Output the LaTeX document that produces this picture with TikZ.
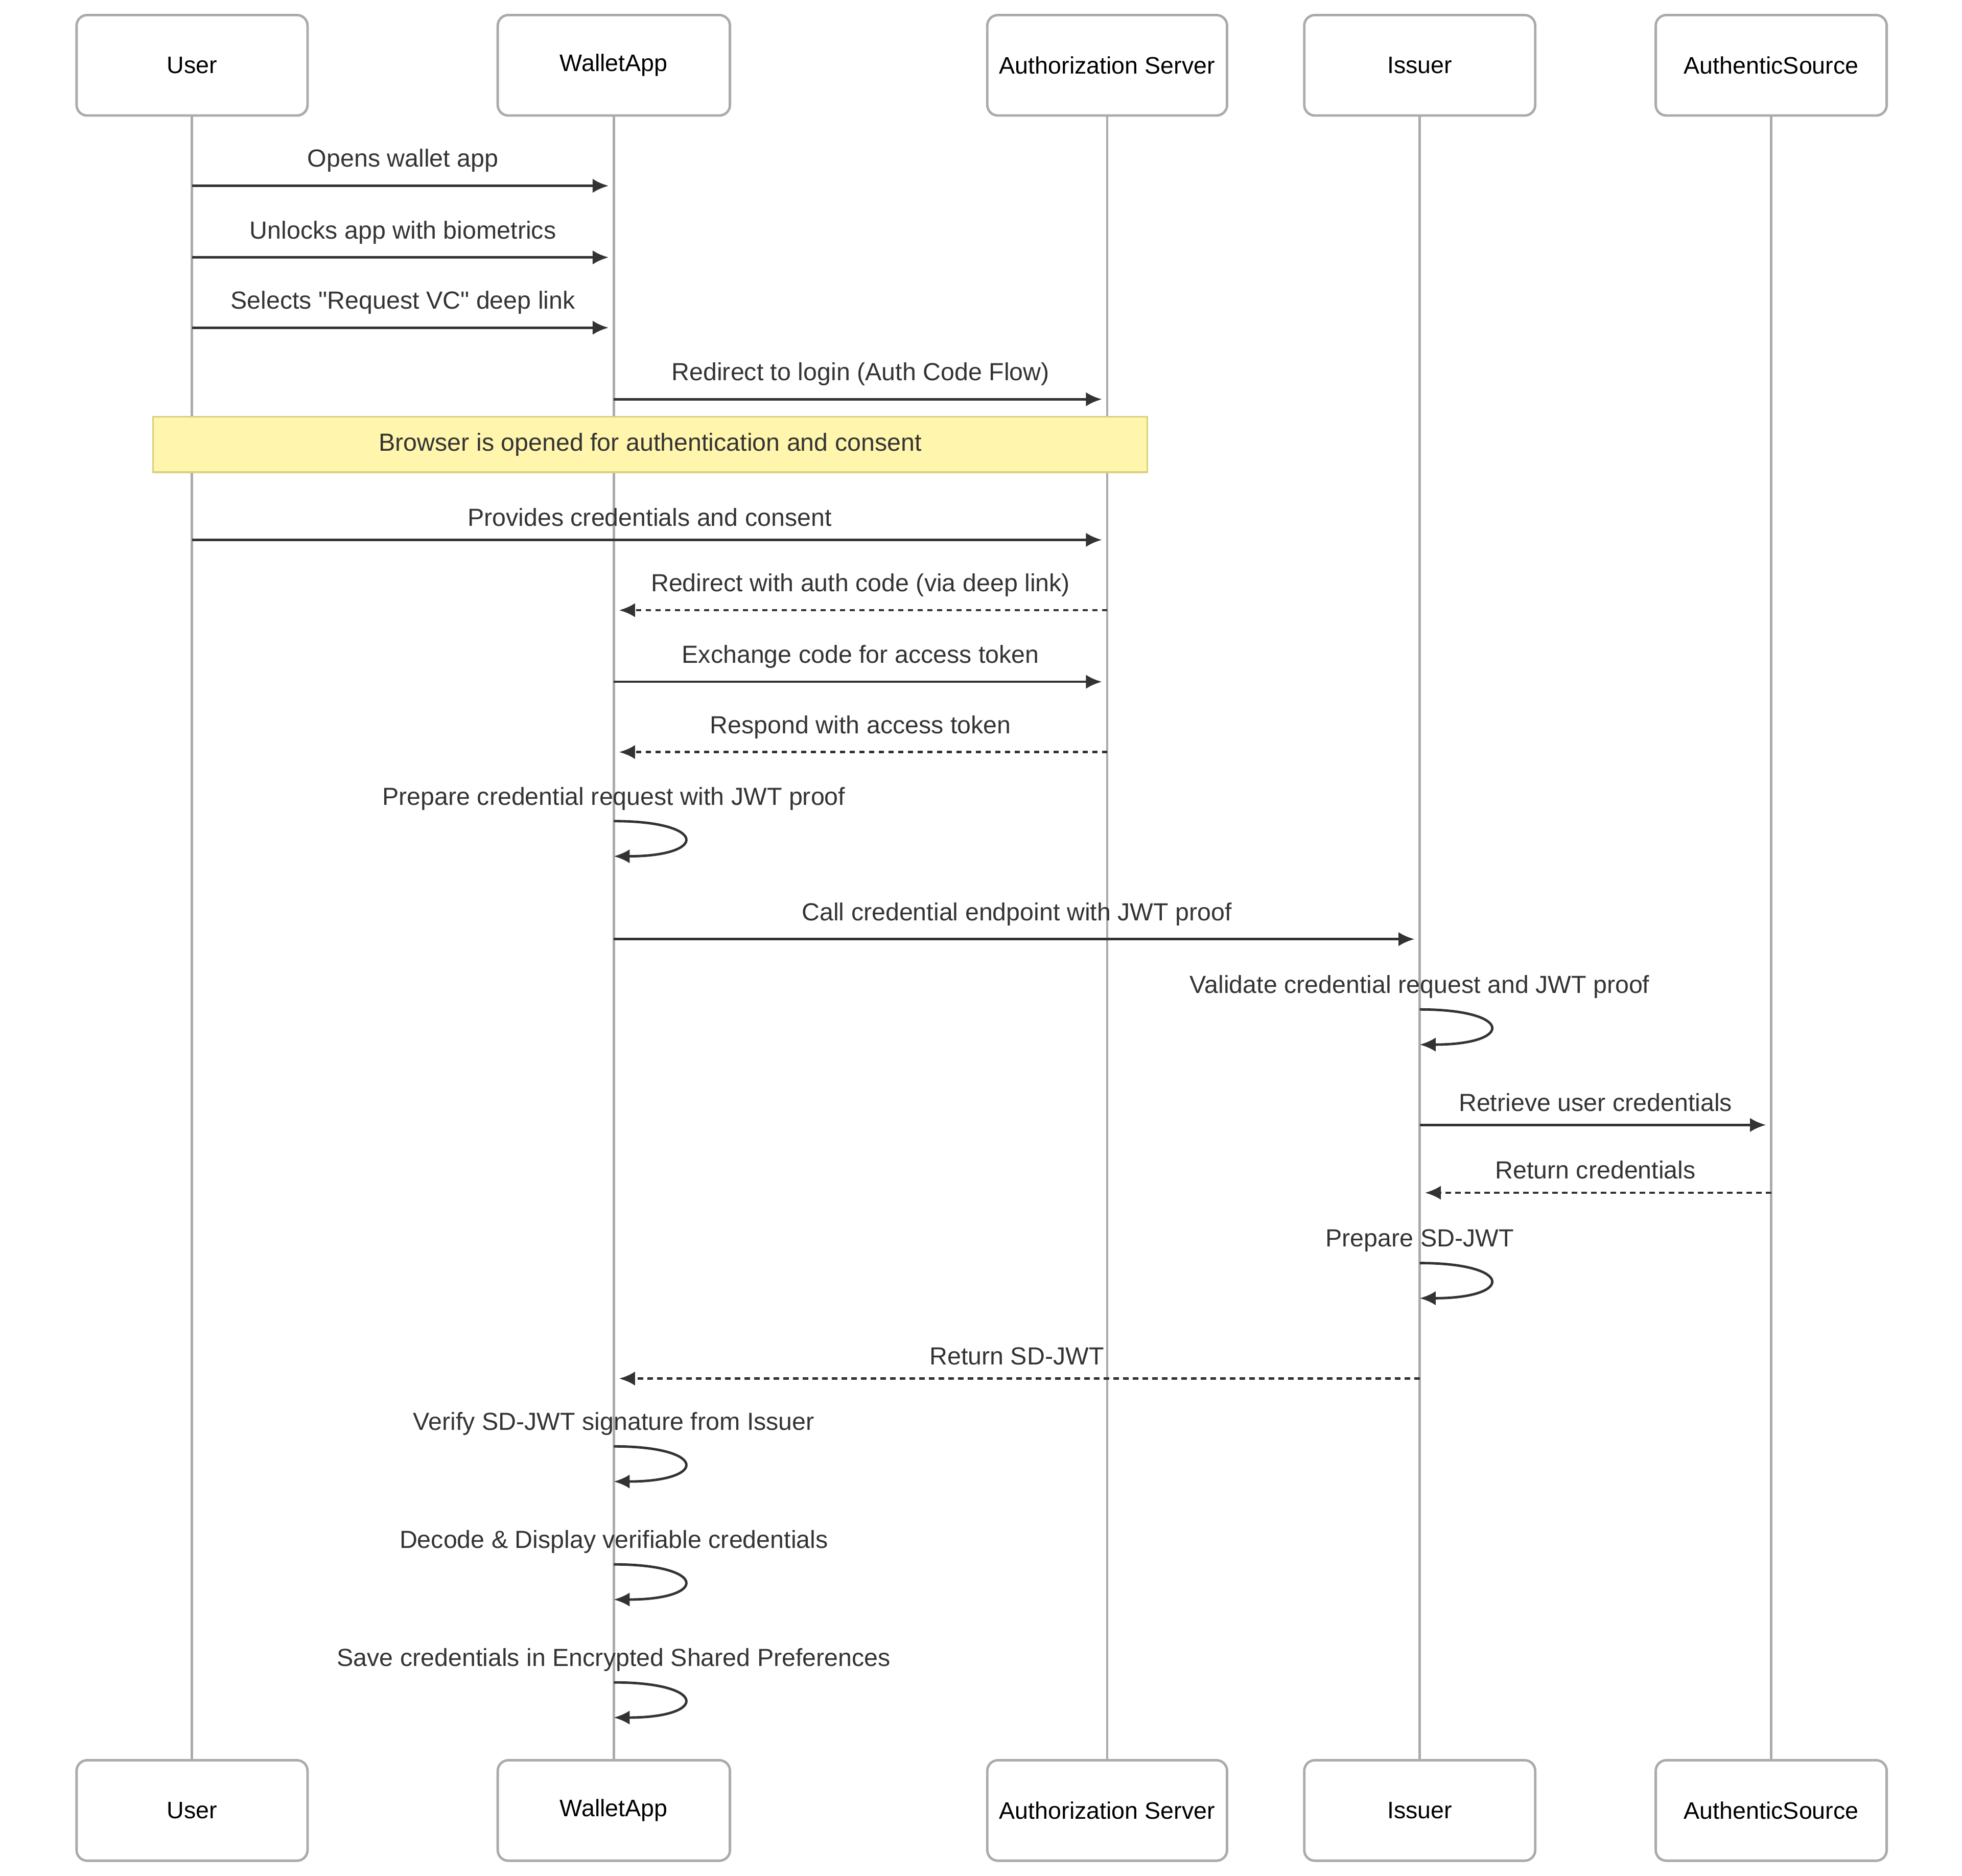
\documentclass[tikz,border=0pt]{standalone}
\usepackage{fontspec}
\setmainfont{Liberation Sans}[Ligatures=TeXOff]
\usetikzlibrary{arrows.meta,calc}
\definecolor{lifegray}{HTML}{ABABAB}
\definecolor{arrowdark}{HTML}{333333}
\definecolor{notefill}{HTML}{FFF5AD}
\definecolor{noteline}{HTML}{D9D27A}
\tikzset{
  actor/.style={draw=lifegray,line width=1.4pt,rounded corners=6pt,fill=white,
    minimum width=4.6cm,minimum height=2cm,font=\fontsize{13.5}{16}\selectfont},
  life/.style={draw=lifegray,line width=1.4pt},
  msg/.style={draw=arrowdark,line width=1.4pt,shorten >=3pt,-{Latex[length=9pt,width=8pt]}},
  reply/.style={msg,dash pattern=on 3pt off 2.5pt},
  lbl/.style={font=\fontsize{14}{16}\selectfont,text=arrowdark,inner sep=1pt},
}
\newcommand{\callmsg}[5]{% style, from, to, y, text
  \draw[#1] (#2.south |- 0,-#4) -- (#3.south |- 0,-#4)
    node[lbl,midway,above=6pt] {#5};}
\newcommand{\selfmsg}[3]{% who, y (label), text
  \node[lbl] at ($(#1.south |- 0,-#2)$) {#3};
  \draw[msg,shorten >=0pt] (#1.south |- 0,-#2-18) .. controls +(75,0) and +(75,0) .. ++(0,-28);}
\begin{document}
\begin{tikzpicture}[x=0.025cm,y=0.025cm]
\useasboundingbox (0,0) rectangle (1563,-1494);
% actors, top and bottom
\foreach \name/\x/\w/\txt in {user/153/184/User, wallet/489/185/WalletApp,
    auth/882/191/Authorization Server, issuer/1131/184/Issuer, source/1411/184/AuthenticSource}{
  \draw[life] (\x,-92) -- (\x,-1402);
  \node[actor,minimum width=\w*0.025cm] (\name) at (\x,-52) {\txt};
  \node[actor,minimum width=\w*0.025cm] (\name-b) at (\x,-1442) {\txt};
}
% messages
\callmsg{msg}{user}{wallet}{148}{Opens wallet app}
\callmsg{msg}{user}{wallet}{205}{Unlocks app with biometrics}
\callmsg{msg}{user}{wallet}{261}{Selects "Request VC" deep link}
\callmsg{msg}{wallet}{auth}{318}{Redirect to login (Auth Code Flow)}
\node[draw=noteline,line width=1pt,fill=notefill,minimum width=792*0.025cm,
  minimum height=44*0.025cm,lbl] (note) at (518,-354) {Browser is opened for authentication and consent};
\callmsg{msg}{user}{auth}{430}{Provides credentials and consent}
\callmsg{reply}{auth}{wallet}{486}{Redirect with auth code (via deep link)}
\callmsg{msg}{wallet}{auth}{543}{Exchange code for access token}
\callmsg{reply}{auth}{wallet}{599}{Respond with access token}
\selfmsg{wallet}{636}{Prepare credential request with JWT proof}
\callmsg{msg}{wallet}{issuer}{748}{Call credential endpoint with JWT proof}
\selfmsg{issuer}{786}{Validate credential request and JWT proof}
\callmsg{msg}{issuer}{source}{896}{Retrieve user credentials}
\callmsg{reply}{source}{issuer}{950}{Return credentials}
\selfmsg{issuer}{988}{Prepare SD-JWT}
\callmsg{reply}{issuer}{wallet}{1098}{Return SD-JWT}
\selfmsg{wallet}{1134}{Verify SD-JWT signature from Issuer}
\selfmsg{wallet}{1228}{Decode \& Display verifiable credentials}
\selfmsg{wallet}{1322}{Save credentials in Encrypted Shared Preferences}
\end{tikzpicture}
\end{document}
